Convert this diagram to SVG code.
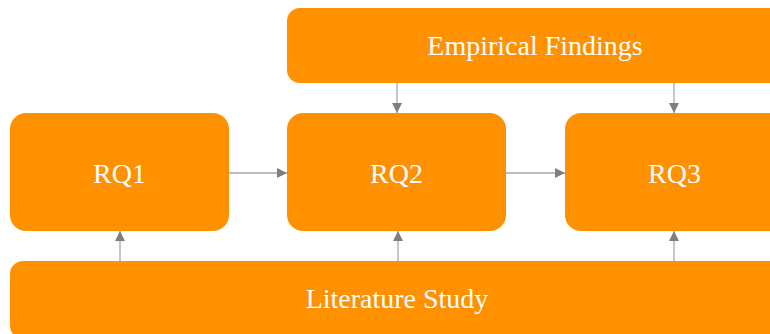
<svg xmlns="http://www.w3.org/2000/svg" width="770" height="334" viewBox="0 0 770 334">
  <style>
    .box { fill: #FF9100; }
    .lbl { fill: #FFFFFF; font-family: "Liberation Serif", "Times New Roman", serif; font-size: 28px; text-anchor: middle; }
    .edge { stroke: #A6A6A6; stroke-width: 1.3; fill: none; marker-end: url(#head); }
  </style>
  <defs>
    <marker id="head" viewBox="0 0 10 10" refX="10" refY="5" markerWidth="10" markerHeight="10" markerUnits="userSpaceOnUse" orient="auto">
      <path d="M0,0 L10,5 L0,10 Z" fill="#7F7F7F"/>
    </marker>
  </defs>
  <rect width="770" height="334" fill="#FFFFFF"/>

  <g id="connectors">
    <line class="edge" x1="229" y1="173" x2="287" y2="173"/>
    <line class="edge" x1="506" y1="173" x2="565" y2="173"/>
    <line class="edge" x1="397" y1="83" x2="397" y2="113"/>
    <line class="edge" x1="674" y1="83" x2="674" y2="113"/>
    <line class="edge" x1="120" y1="261" x2="120" y2="231"/>
    <line class="edge" x1="398" y1="261" x2="398" y2="231"/>
    <line class="edge" x1="674" y1="261" x2="674" y2="231"/>
  </g>

  <g id="empirical-findings">
    <rect class="box" x="287" y="8" width="497" height="75" rx="13"/>
    <text class="lbl" x="535" y="55">Empirical Findings</text>
  </g>
  <g id="rq1">
    <rect class="box" x="10" y="113" width="219" height="118" rx="16"/>
    <text class="lbl" x="119.5" y="183">RQ1</text>
  </g>
  <g id="rq2">
    <rect class="box" x="287" y="113" width="219" height="118" rx="16"/>
    <text class="lbl" x="396.5" y="183">RQ2</text>
  </g>
  <g id="rq3">
    <rect class="box" x="565" y="113" width="219" height="118" rx="16"/>
    <text class="lbl" x="674.5" y="183">RQ3</text>
  </g>
  <g id="literature-study">
    <rect class="box" x="10" y="261" width="774" height="78" rx="13"/>
    <text class="lbl" x="397" y="308">Literature Study</text>
  </g>
</svg>
